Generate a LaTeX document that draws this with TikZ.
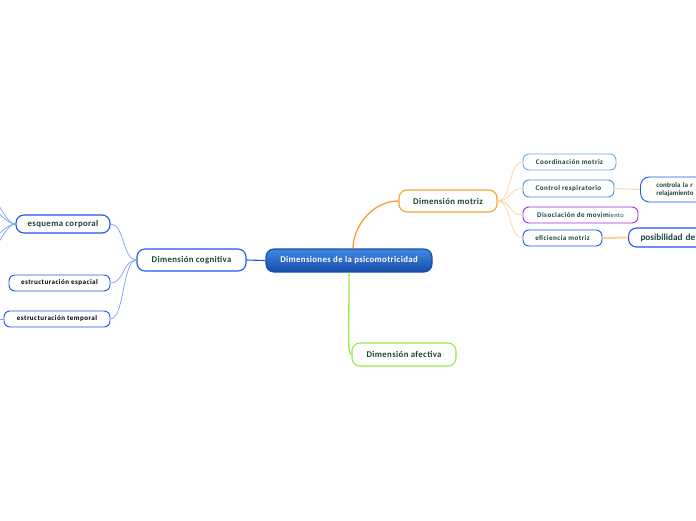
\documentclass[tikz,border=0pt]{standalone}
\usepackage{fontspec}
\setmainfont{Carlito}
\newfontfamily\wideA[LetterSpace=4]{Carlito}
\newfontfamily\wideB[LetterSpace=6]{Carlito}
\definecolor{txt}{RGB}{25,70,55}
\definecolor{orng}{RGB}{247,160,50}
\definecolor{orngl}{RGB}{252,210,155}
\definecolor{blu}{RGB}{30,85,240}
\definecolor{blul}{RGB}{125,160,250}
\definecolor{lblu}{RGB}{105,170,225}
\definecolor{lblub}{RGB}{75,145,215}
\definecolor{purp}{RGB}{165,45,230}
\definecolor{grn}{RGB}{150,235,70}
\definecolor{ctop}{RGB}{65,135,225}
\definecolor{cbot}{RGB}{22,78,170}
\begin{document}
\begin{tikzpicture}[x=1pt,y=-1pt,
  box/.style={draw, rounded corners=8pt, line width=1.1pt, fill=white, inner sep=0pt, text=txt, font=\wideA\bfseries\fontsize{8.8}{9.5}\selectfont},
  small/.style={box, rounded corners=6pt, line width=0.9pt, font=\wideB\bfseries\fontsize{7.1}{8.2}\selectfont}]
\useasboundingbox (0,0) rectangle (696,520);

\node[box, draw=cbot, top color=ctop, bottom color=cbot, text=white, minimum width=166pt, minimum height=23pt] (c) at (349,260.5) {Dimensiones de la psicomotricidad};
\node[box, draw=orng, minimum width=98pt, minimum height=22pt] (m) at (448,201) {Dimensión motriz};
\node[box, draw=blu, minimum width=109pt, minimum height=22pt] (g) at (191.5,260) {Dimensión cognitiva};
\node[box, draw=grn, minimum width=104pt, minimum height=23pt] (a) at (404,354.5) {Dimensión afectiva};
\node[box, draw=blu, minimum width=94pt, minimum height=18pt] (e) at (63,224) {esquema corporal};
\node[small, draw=blu, text=black, minimum width=101pt, minimum height=16pt] (s) at (59.5,283) {estructuración espacial};
\node[small, draw=blu, text=black, minimum width=106pt, minimum height=16pt] (t) at (57,319) {estructuración temporal};

\node[small, draw=lblu, minimum width=93pt, minimum height=16pt] (cm) at (569.5,162) {Coordinación motriz};
\node[small, draw=lblub, minimum width=91pt, minimum height=17pt] (cr) at (568.5,188.5) {Control respiratorio};
\node[small, draw=purp, minimum width=115pt, minimum height=16pt] (dm) at (580.5,215) {Disociación de movim{\mdseries\fontsize{6.4}{6.5}\selectfont\raisebox{-0.6pt}{iento}}};
\node[small, draw=blu, minimum width=79pt, minimum height=16pt] (ef) at (562.5,238) {eficiencia motriz};
\node[small, draw=blu, rounded corners=9pt, anchor=west, text width=84pt, align=left, inner xsep=16pt, inner ysep=3pt, minimum height=25pt, font=\bfseries\fontsize{7}{8.4}\selectfont] (cl) at (640,189.5) {controla la r\\relajamiento};
\node[box, draw=blu, anchor=west, text width=90pt, align=left, inner xsep=12pt, minimum height=19pt, font=\bfseries\fontsize{9.2}{10}\selectfont] (pd) at (628,237.5) {posibilidad de};

\coordinate (l1) at (-20,183);
\coordinate (l2) at (-20,200);
\coordinate (l3) at (-20,246);
\coordinate (l4) at (-20,264);
\coordinate (l5) at (-10,319);

\draw[orng, line width=1.3pt] ([xshift=4pt]c.north) .. controls +(0,-22) and +(-26,0) .. (m.west);
\draw[grn, line width=1.3pt] (c.south) .. controls +(0,72) and +(-4,-2) .. (a.west);
\draw[blu, line width=1.1pt] (c.west) -- (g.east);
\foreach \n in {e,s,t} \draw[blul, line width=0.7pt] (g.west) .. controls +(-14,0) and +(14,0) .. (\n.east);
\foreach \n in {cm,cr,dm,ef} \draw[orngl, line width=0.7pt] (m.east) .. controls +(14,0) and +(-14,0) .. (\n.west);
\foreach \n in {l1,l2,l3,l4} \draw[blul, line width=0.7pt] (e.west) .. controls +(-12,0) and +(12,0) .. (\n);
\draw[blul, line width=0.7pt] (t.west) -- (l5);
\draw[orngl, line width=0.8pt] (cr.east) -- (cl.west);
\draw[orngl, line width=2pt] (ef.east) -- (pd.west);
\end{tikzpicture}
\end{document}
